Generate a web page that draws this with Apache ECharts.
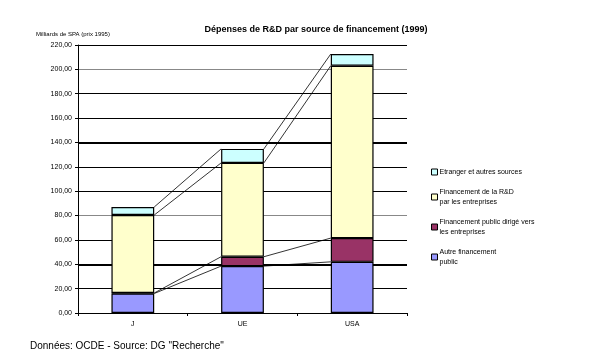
<!DOCTYPE html>
<html><head><meta charset="utf-8">
<script src="https://cdn.jsdelivr.net/npm/echarts@6/dist/echarts.min.js"></script>
<style>html,body{margin:0;padding:0;background:#fff}#c{width:604px;height:363px}</style>
</head><body><div id="c"></div>
<script>
var categories = ['J', 'UE', 'USA'];
var autrePublic = [16.0, 38.5, 42.0];
var publicEntreprises = [0.4, 7.7, 19.5];
var entreprises = [64.0, 77.0, 141.5];
var etranger = [6.6, 11.5, 9.6];
var yTicks = [0, 20, 40, 60, 80, 100, 120, 140, 160, 180, 200, 220];
var seriesNames = ['Autre financement\npublic', 'Financement public dirigé vers\nles entreprises', 'Financement de la R&D\npar les entreprises', 'Etranger et autres sources'];

var layers = [autrePublic, publicEntreprises, entreprises, etranger];
var colors = ['#9999FF', '#993366', '#FFFFCC', '#CCFFFF'];
var barRatio = 0.39;

var tops = [];
var cum = categories.map(function(){return 0;});
layers.forEach(function(arr){
  cum = cum.map(function(c, i){return c + arr[i];});
  tops.push(cum.slice());
});
var connData = [];
tops.forEach(function(t){
  for (var i = 0; i < categories.length - 1; i++) connData.push([i, t[i], t[i+1]]);
});

var chart = echarts.init(document.getElementById('c'));
var series = layers.map(function(arr, k){
  return {
    name: seriesNames[k], type: 'bar', stack: 'a', data: arr,
    barWidth: (barRatio*100) + '%',
    itemStyle: {color: colors[k], borderColor: '#000', borderWidth: 1.2},
    emphasis: {disabled: true}, z: 3
  };
});
series.unshift({
  type: 'line', data: [], z: 1, silent: true,
  markLine: {
    z: 1, silent: true, symbol: 'none', label: {show: false},
    lineStyle: {color: '#000', width: 2, type: 'solid'},
    data: [{yAxis: 140}, {yAxis: 40}]
  }
});
series.push({
  type: 'custom', data: connData, z: 4, silent: true,
  renderItem: function(params, api){
    var i = api.value(0);
    var p1 = api.coord([i, api.value(1)]);
    var p2 = api.coord([i + 1, api.value(2)]);
    var half = api.size([1, 0])[0] * barRatio / 2;
    return {type: 'line', shape: {x1: p1[0] + half, y1: p1[1], x2: p2[0] - half, y2: p2[1]},
      style: {stroke: '#000', lineWidth: 0.8}};
  }
});

chart.setOption({
  animation: false,
  backgroundColor: '#fff',
  textStyle: {fontFamily: 'Liberation Sans, Arial, sans-serif'},
  title: {
    text: 'Dépenses de R&D par source de financement (1999)',
    left: 311, top: 20, textAlign: 'center',
    textStyle: {fontSize: 9, fontWeight: 'bold', color: '#000', fontFamily: 'Liberation Sans, Arial, sans-serif'}
  },
  graphic: [{
    type: 'text', left: 30, top: 341,
    style: {text: 'Données: OCDE - Source: DG "Recherche"', fontSize: 10, fill: '#000', fontFamily: 'Liberation Sans, Arial, sans-serif'}
  }],
  legend: {
    orient: 'vertical', left: 426, top: 162,
    data: [seriesNames[3], seriesNames[2], seriesNames[1], seriesNames[0]],
    itemWidth: 6, itemHeight: 6, itemGap: 10,
    icon: 'rect',
    itemStyle: {borderColor: '#000', borderWidth: 1},
    textStyle: {fontSize: 7, lineHeight: 10, color: '#000', padding: [0,0,0,-3]},
    selectedMode: false
  },
  grid: {left: 78, right: 197, top: 45, bottom: 50},
  xAxis: {
    type: 'category', data: categories,
    axisLine: {lineStyle: {color: '#000', width: 1}},
    axisTick: {show: true, length: 3, lineStyle: {color: '#000'}},
    axisLabel: {fontSize: 7, color: '#000', margin: 8}
  },
  yAxis: {
    type: 'value', min: 0, max: 220, interval: 20,
    name: 'Milliards de SPA (prix 1995)', nameLocation: 'end', nameGap: 8,
    nameTextStyle: {fontSize: 6, color: '#000', align: 'center', padding: [0, 0, 0, -10]},
    axisLine: {show: true, lineStyle: {color: '#000', width: 1}},
    axisTick: {show: true, length: 3, inside: false, lineStyle: {color: '#000'}},
    axisLabel: {fontSize: 7, color: '#000', margin: 6, formatter: function(v){return v.toFixed(2).replace('.', ',');}},
    splitLine: {show: true, lineStyle: {color: ['#000', '#000', '#888', '#000', '#888', '#000', '#000', '#888', '#000', '#000', '#888', '#000'], width: 1}}
  },
  series: series
});
</script></body></html>
